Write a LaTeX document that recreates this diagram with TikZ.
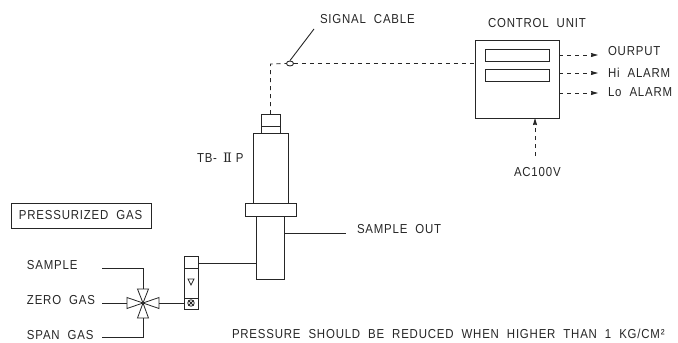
\documentclass[tikz,border=0pt]{standalone}
\usepackage{fontspec}
\setmainfont{Liberation Sans}[FakeStretch=0.88,LetterSpace=6.2,WordSpace=2.0]
\newfontfamily\romanfont{DejaVu Serif}
\usetikzlibrary{arrows.meta,shapes.geometric}
\definecolor{ink}{gray}{0.15}
\tikzset{
  wire/.style={draw=ink,line width=0.9pt},
  dash line/.style={wire,dash pattern=on 4pt off 4pt},
  boxn/.style={draw=ink,line width=0.9pt,fill=white,inner sep=0pt,outer sep=0pt,rectangle},
  lab/.style={anchor=west,inner sep=0pt,outer sep=0pt,text=ink,font=\fontsize{13}{14}\selectfont},
  tip/.style={-{Stealth[length=7pt,width=4pt,inset=0.5pt]}},
  vtri/.style={draw=ink,line width=0.8pt},
}
\begin{document}
\begin{tikzpicture}[x=1pt,y=-1pt]
\useasboundingbox (0,0) rectangle (678,343);
% sensor
\node[boxn,minimum width=19pt,minimum height=19pt] (cap) at (270.5,123.5) {};
\draw[wire] (cap.west |- 0,126) -- (cap.east |- 0,126);
\node[boxn,minimum width=34.5pt,minimum height=70pt] (body) at (270.75,168) {};
\node[boxn,minimum width=27.5pt,minimum height=63pt] (lower) at (270.5,247.5) {};
\node[boxn,minimum width=50.5pt,minimum height=13pt] (flange) at (271,209.5) {};
\coordinate (sampleoutend) at (346,233);
\draw[wire] (lower.east |- sampleoutend) -- (sampleoutend);
% control unit
\node[boxn,minimum width=84pt,minimum height=78pt] (unit) at (517,79) {};
\node[boxn,minimum width=64pt,minimum height=12pt] (disp1) at (517,55) {};
\node[boxn,minimum width=64pt,minimum height=12pt] (disp2) at (517,75) {};
% signal cable
\node[draw=ink,line width=0.9pt,fill=white,ellipse,minimum width=7pt,minimum height=5pt,inner sep=0pt] (gland) at (290,63.5) {};
\coordinate (corner) at (270.5,64);
\draw[dash line] (cap.north) -- (corner) -- (gland.west);
\draw[dash line] (gland.east) -- (gland.east -| unit.west);
\coordinate (leader) at (314,29);
\draw[wire] (gland.north) -- (leader);
\node[lab] (siglab) at (320,19.5) {SIGNAL CABLE};
\node[lab] (culab) at (488,23.5) {CONTROL UNIT};
% outputs
\node[lab] (out1) at (608,51.5) {OURPUT};
\node[lab] (out2) at (608,72.5) {Hi ALARM};
\node[lab] (out3) at (608,92) {Lo ALARM};
\draw[dash line,tip] (unit.east |- 0,55) -- (598,55);
\draw[dash line,tip] (unit.east |- 0,73) -- (598,73);
\draw[dash line,tip] (unit.east |- 0,93) -- (598,93);
\coordinate (acend) at (535,156);
\draw[dash line,tip] (acend) -- (acend |- unit.south);
\node[lab] (aclab) at (514,172.5) {AC100V};
\node[lab] (tblab) at (197,158) {TB-\hspace{6pt}{\romanfont Ⅱ}\hspace{4pt}P};
% box label
\node[boxn,minimum width=140pt,minimum height=25pt] (pgbox) at (81,215.5) {};
\node[lab] (pglab) at (19,215.5) {PRESSURIZED GAS};
\node[lab] (s1) at (27,265) {SAMPLE};
\node[lab] (s2) at (27,300) {ZERO GAS};
\node[lab] (s3) at (27,335) {SPAN GAS};
\node[lab] (sout) at (357,229.5) {SAMPLE OUT};
\node[lab] (note) at (232,334) {PRESSURE SHOULD BE REDUCED WHEN HIGHER THAN 1 KG/CM²};
% valve
\coordinate (vc) at (143,303);
\draw[vtri] (vc) -- (137.5,289) -- (148.5,289) -- cycle;
\draw[vtri] (vc) -- (137.5,318) -- (148.5,318) -- cycle;
\draw[vtri] (vc) -- (127,297.5) -- (127,308.5) -- cycle;
\draw[vtri] (vc) -- (159,297.5) -- (159,308.5) -- cycle;
\coordinate (in1) at (102,268);
\coordinate (in2) at (102,303);
\coordinate (in3) at (102,337);
\coordinate (vt) at (143,289);
\coordinate (vb) at (143,318);
\coordinate (vl) at (127,303);
\coordinate (vr) at (159,303);
\draw[wire] (in1) -| (vt);
\draw[wire] (in2) -- (vl);
\draw[wire] (in3) -| (vb);
% flow meter
\node[boxn,minimum width=14pt,minimum height=53pt] (fm) at (191,282.5) {};
\draw[wire] (fm.west |- 0,268) -- (fm.east |- 0,268);
\draw[wire] (fm.west |- 0,298) -- (fm.east |- 0,298);
\draw[vtri] (188,279) -- (194,279) -- (191,285) -- cycle;
\node[draw=ink,line width=0.8pt,circle,minimum size=6.5pt,inner sep=0pt] (ball) at (191,303) {};
\draw[vtri] (ball.north west) -- (ball.south east);
\draw[vtri] (ball.north east) -- (ball.south west);
\draw[wire] (vr) -- (fm.west |- vr);
\draw[wire] (fm.east |- 0,263) -- (lower.west |- 0,263);
\end{tikzpicture}
\end{document}
